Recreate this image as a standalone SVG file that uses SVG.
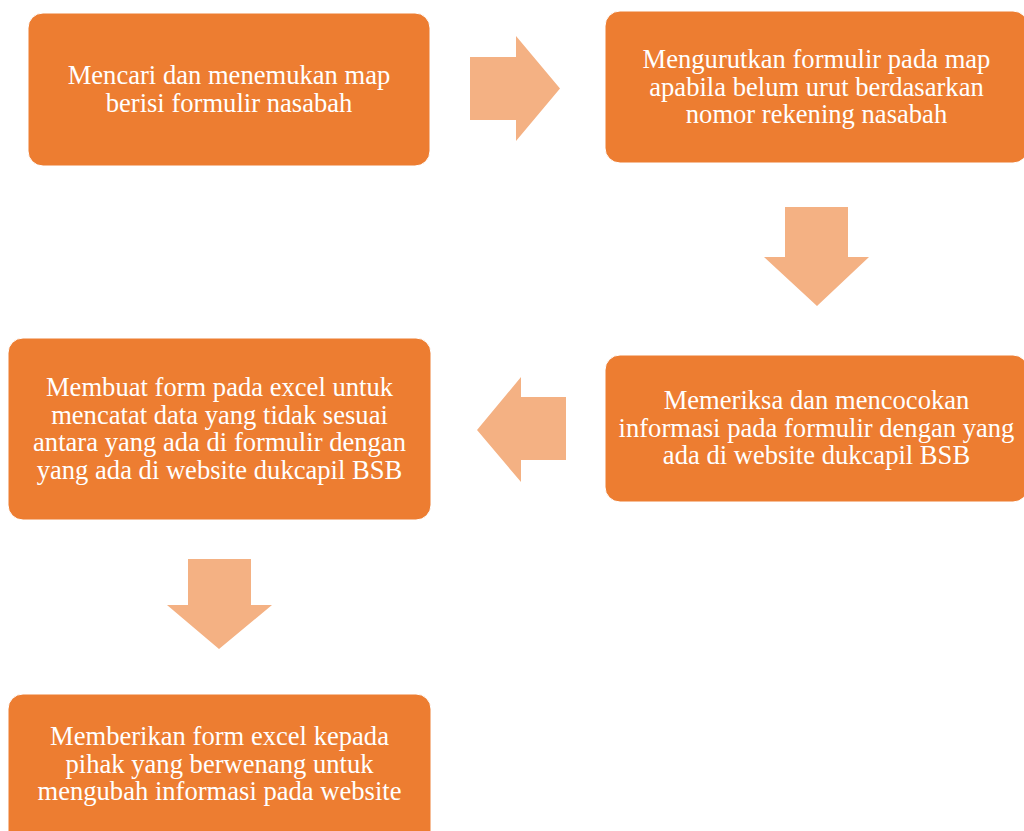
<svg xmlns="http://www.w3.org/2000/svg" width="1024" height="831" viewBox="0 0 1024 831">
<style>
.box{fill:#ED7D31;stroke:#FFFFFF;stroke-width:1}
.arr{fill:#F4B183}
.t{font-family:"Liberation Serif","Times New Roman",serif;font-size:26.6px;fill:#FFFFFF;text-anchor:middle}
</style>
<rect width="1024" height="831" fill="#FFFFFF"/>
<g id="connectors">
<polygon class="arr" points="470,57 516,57 516,36 560,88.5 516,141 516,120 470,120"/>
<polygon class="arr" points="785,207 848,207 848,257 869,257 817,306 764,257 785,257"/>
<polygon class="arr" points="566,397 521,397 521,377 477,430 521,482 521,460 566,460"/>
<polygon class="arr" points="188,559 251,559 251,605 272,605 219,649 167,605 188,605"/>
</g>
<g id="node1">
<rect class="box" x="28" y="13" width="402" height="153" rx="15"/>
<text class="t" x="229" y="84">Mencari dan menemukan map</text>
<text class="t" x="229" y="112">berisi formulir nasabah</text>
</g>
<g id="node2">
<rect class="box" x="605" y="11" width="423" height="152" rx="15"/>
<text class="t" x="816.5" y="68">Mengurutkan formulir pada map</text>
<text class="t" x="816.5" y="95.5">apabila belum urut berdasarkan</text>
<text class="t" x="816.5" y="123">nomor rekening nasabah</text>
</g>
<g id="node3">
<rect class="box" x="605" y="355" width="423" height="147" rx="15"/>
<text class="t" x="816.5" y="409">Memeriksa dan mencocokan</text>
<text class="t" x="816.5" y="436.5">informasi pada formulir dengan yang</text>
<text class="t" x="816.5" y="464">ada di website dukcapil BSB</text>
</g>
<g id="node4">
<rect class="box" x="8" y="338" width="423" height="182" rx="15"/>
<text class="t" x="219.5" y="396">Membuat form pada excel untuk</text>
<text class="t" x="219.5" y="423.5">mencatat data yang tidak sesuai</text>
<text class="t" x="219.5" y="451">antara yang ada di formulir dengan</text>
<text class="t" x="219.5" y="478.5">yang ada di website dukcapil BSB</text>
</g>
<g id="node5">
<rect class="box" x="8" y="694" width="423" height="160" rx="15"/>
<text class="t" x="219.5" y="745">Memberikan form excel kepada</text>
<text class="t" x="219.5" y="772.5">pihak yang berwenang untuk</text>
<text class="t" x="219.5" y="800">mengubah informasi pada website</text>
</g>
</svg>
